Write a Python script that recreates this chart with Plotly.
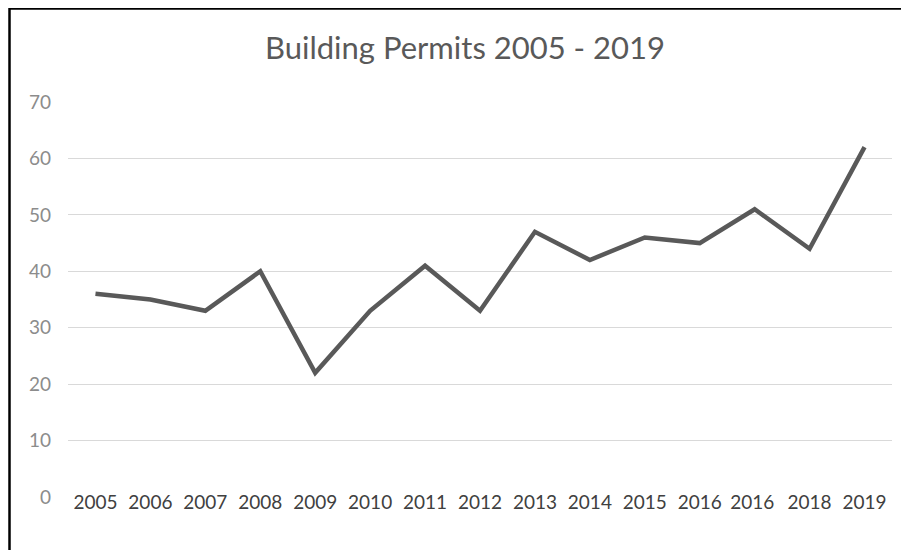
import plotly.graph_objects as go

years = ["2005", "2006", "2007", "2008", "2009", "2010", "2011", "2012",
         "2013", "2014", "2015", "2016", "2016 ", "2018", "2019"]
permits = [36, 35, 33, 40, 22, 33, 41, 33, 47, 42, 46, 45, 51, 44, 62]
y_ticks = [0, 10, 20, 30, 40, 50, 60, 70]

# page has an 8px body margin, so the figure is slightly smaller than the window
W, H = 901, 542
L, R, T, B = 60, 17, 94, 53
pw, ph = W - L - R, H - T - B

fig = go.Figure()
fig.add_trace(go.Scatter(
    x=years, y=permits, mode="lines",
    line=dict(color="#595959", width=4.5),
    hoverinfo="x+y", showlegend=False,
))

fig.update_layout(
    width=W, height=H,
    margin=dict(l=L, r=R, t=T, b=B),
    paper_bgcolor="white", plot_bgcolor="white",
    font=dict(family="Lato, Open Sans, sans-serif"),
    title=dict(text="Building Permits 2005 - 2019",
               x=457 / W, xanchor="center",
               y=1 - 40 / H, yanchor="middle",
               font=dict(size=31, color="#595959", family="Lato")),
    xaxis=dict(type="category", range=[-0.5, len(years) - 0.5],
               showgrid=False, zeroline=False, showline=False,
               ticks="", anchor="free", position=8 / ph,
               tickfont=dict(size=19, color="#404040", family="Lato")),
    yaxis=dict(range=[0, 70], tickvals=y_ticks, ticktext=[str(v) for v in y_ticks],
               showgrid=True, gridcolor="#d9d9d9", gridwidth=1,
               zeroline=False, showline=False, ticks="",
               ticklabelstandoff=16,
               tickfont=dict(size=19, color="#8c8c8c", family="Lato")),
    shapes=[
        dict(type="line", xref="paper", yref="paper",
             x0=(1 - L) / pw, x1=(W + 5 - L) / pw,
             y0=(H - B - 0.5) / ph, y1=(H - B - 0.5) / ph,
             line=dict(color="black", width=2.5)),
        dict(type="line", xref="paper", yref="paper",
             x0=(1.5 - L) / pw, x1=(1.5 - L) / pw,
             y0=(H - B) / ph, y1=(-B - 5) / ph,
             line=dict(color="black", width=2.5)),
    ],
)

fig.write_html("out.html")
